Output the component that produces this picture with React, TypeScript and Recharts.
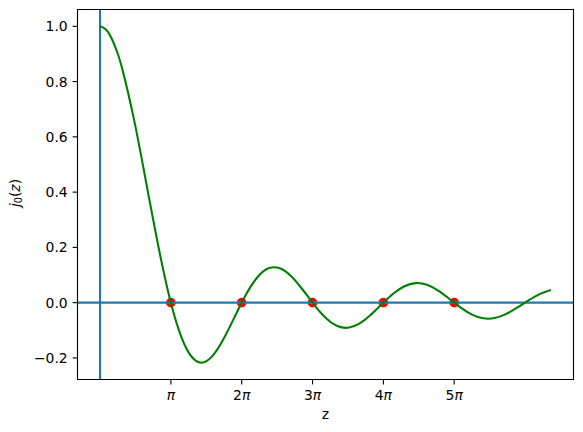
import React from 'react';
import {
  ComposedChart,
  Line,
  XAxis,
  YAxis,
  ReferenceLine,
  ReferenceDot,
  ReferenceArea,
} from 'recharts';

const zValues = [
  0, 0.25, 0.5, 0.75, 1, 1.5, 2, 2.5, 3, 3.5, 4, 4.5, 5, 5.5, 6, 6.5, 7, 7.5, 8, 8.5, 9, 9.5,
  10, 10.5, 11, 11.5, 12, 12.5, 13, 13.5, 14, 14.5, 15, 15.5, 16, 16.5, 17, 17.5, 18, 18.5,
  19, 19.5, 20,
];
const j0Values = [
  1.0, 0.98962, 0.95885, 0.90885, 0.84147, 0.665, 0.45465, 0.23939, 0.04704, -0.10022,
  -0.1892, -0.21723, -0.19178, -0.12828, -0.04657, 0.0331, 0.09386, 0.12507, 0.12367,
  0.09394, 0.04579, -0.00791, -0.0544, -0.08378, -0.09091, -0.07613, -0.04471, -0.00531,
  0.03232, 0.05954, 0.07076, 0.06448, 0.04335, 0.01332, -0.01799, -0.04317, -0.05655,
  -0.05581, -0.04172, -0.01839, 0.00789, 0.03105, 0.04565,
];

// Zeros (red markers) and x tick labels
const zeroZ = [3.1416, 6.2832, 9.4248, 12.5664, 15.708];
const zeroY = [0, 0, 0, 0, 0];
const xTickCoef = ['', '2', '3', '4', '5'];
const yTicks = [-0.2, 0, 0.2, 0.4, 0.6, 0.8, 1.0];

const xDomain: [number, number] = [-1, 21];
const yDomain: [number, number] = [-0.27809, 1.06086];

const lineData = zValues.map((z, i) => ({ z, j: j0Values[i] }));

const FONT = 'DejaVu Sans';
const FS = 13.9;

function XTick(props: any) {
  const { x, y, index } = props;
  const coef = xTickCoef[index] ?? '';
  return (
    <text x={x} y={y + 13.1} textAnchor="middle" fontFamily={FONT} fontSize={FS} fill="#000">
      {coef ? <tspan>{coef}</tspan> : null}
      <tspan fontStyle="italic">π</tspan>
    </text>
  );
}

function YTitle() {
  const cx = 19.5;
  const cy = 193;
  return (
    <text
      x={cx}
      y={cy}
      transform={`rotate(-90, ${cx}, ${cy})`}
      textAnchor="middle"
      fontFamily={FONT}
      fontSize={FS}
      fill="#000"
    >
      <tspan fontStyle="italic">j</tspan>
      <tspan fontSize={9.7} dy={2.2}>0</tspan>
      <tspan dy={-2.2}>(</tspan>
      <tspan fontStyle="italic">z</tspan>
      <tspan>)</tspan>
    </text>
  );
}

function XTitle() {
  return (
    <text x={325.5} y={419} textAnchor="middle" fontFamily={FONT} fontSize={FS} fill="#000">
      z
    </text>
  );
}

export default function App() {
  return (
    <div style={{ position: 'absolute', left: 0, top: 0, width: 583, height: 432, background: '#fff' }}>
      <ComposedChart
        width={583}
        height={432}
        margin={{ top: 9.5, right: 9.5, bottom: 0, left: 0 }}
        style={{ fontFamily: FONT }}
      >
        <XAxis
          dataKey="z"
          type="number"
          domain={xDomain}
          allowDataOverflow
          ticks={zeroZ}
          interval={0}
          height={52.5}
          axisLine={false}
          tickLine={{ stroke: '#000', strokeWidth: 1.1 }}
          tickSize={4.9}
          tickMargin={2}
          tick={<XTick />}
          label={<XTitle />}
        />
        <YAxis
          type="number"
          domain={yDomain}
          allowDataOverflow
          ticks={yTicks}
          interval={0}
          width={77.5}
          axisLine={false}
          tickLine={{ stroke: '#000', strokeWidth: 1.1 }}
          tickSize={4.9}
          tickMargin={4.9}
          tick={{ fill: '#000', fontSize: FS, fontFamily: FONT }}
          tickFormatter={(v: number) => v.toFixed(1).replace('-', '\u2212')}
          label={<YTitle />}
        />
        {zeroZ.map((z, i) => (
          <ReferenceDot
            key={i}
            x={z}
            y={zeroY[i]}
            r={4.17}
            fill="#ff0000"
            stroke="#ff0000"
            strokeWidth={1.39}
            zIndex={50}
          />
        ))}
        <ReferenceLine x={0} stroke="#1f77b4" strokeWidth={2.08} zIndex={350} />
        <ReferenceLine y={0} stroke="#1f77b4" strokeWidth={2.08} zIndex={350} />
        <Line
          data={lineData}
          dataKey="j"
          type="natural"
          stroke="#008000"
          strokeWidth={2.08}
          dot={false}
          activeDot={false}
          isAnimationActive={false}
          zIndex={450}
        />
        <ReferenceArea
          x1={xDomain[0]}
          x2={xDomain[1]}
          y1={yDomain[0]}
          y2={yDomain[1]}
          fill="none"
          fillOpacity={0}
          stroke="#000"
          strokeWidth={1.1}
          zIndex={500}
        />
      </ComposedChart>
    </div>
  );
}
